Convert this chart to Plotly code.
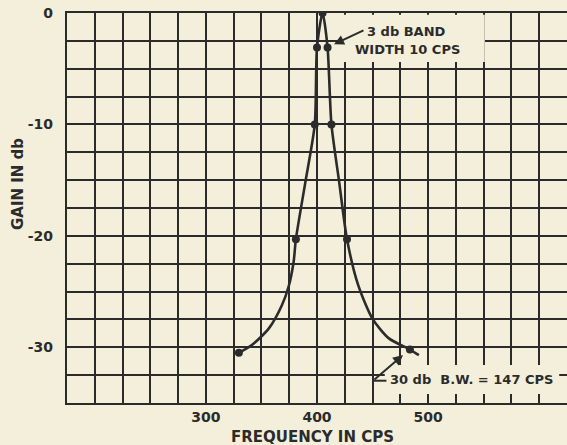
import plotly.graph_objects as go

# Traced response curve (frequency in cps, gain in db)
curve_freq = [329.7, 341.4, 356.7, 368.3, 374.6, 379.0, 381.0, 389.5, 398.0, 400.0,
              405.0, 409.5, 413.0, 420.0, 427.0, 437.0, 449.7, 464.7, 483.6, 491.7]
curve_gain = [-30.5, -29.8, -28.3, -26.25, -24.5, -22.3, -20.3, -15.2, -10.0, -3.1,
              0.0, -3.1, -10.0, -15.2, -20.3, -24.4, -27.4, -29.2, -30.2, -30.7]

# Measured points marked on the curve
pt_freq = [329.7, 381.0, 398.0, 400.0, 405.0, 409.5, 413.0, 427.0, 483.6]
pt_gain = [-30.5, -20.3, -10.0, -3.1, 0.0, -3.1, -10.0, -20.3, -30.2]

# Axis ticks
x_grid = list(range(175, 626, 25))
x_labels = {300: "300", 400: "400", 500: "500"}
y_grid = [-35 + 2.5 * i for i in range(15)]
y_labels = {0: "0", -10: "-10", -20: "-20", -30: "-30"}

ink = "#2b2b2b"
paper = "#f4efdb"
font_fam = "DejaVu Sans"

fig = go.Figure()
fig.add_trace(go.Scatter(
    x=curve_freq, y=curve_gain, mode="lines",
    line=dict(color=ink, width=2.6, shape="spline", smoothing=0.7),
    hoverinfo="skip", showlegend=False))
fig.add_trace(go.Scatter(
    x=pt_freq, y=pt_gain, mode="markers",
    marker=dict(color=ink, size=8), showlegend=False))

fig.update_layout(
    width=567, height=445,
    margin=dict(l=67, r=0, t=13, b=42),
    paper_bgcolor=paper, plot_bgcolor=paper,
    font=dict(family=font_fam, size=14, color=ink, weight="bold"),
)
fig.update_xaxes(
    range=[175, 625], tickmode="array", tickvals=x_grid,
    ticktext=[x_labels.get(v, "") for v in x_grid],
    showgrid=True, gridcolor=ink, gridwidth=1.6,
    showline=True, linecolor=ink, linewidth=2.2, mirror=True,
    ticks="", ticklabelstandoff=0, zeroline=False, automargin=False,
    tickfont=dict(family=font_fam, size=14, color=ink, weight="bold"))
fig.update_yaxes(
    range=[-35, 0], tickmode="array", tickvals=y_grid,
    ticktext=[y_labels.get(v, "") for v in y_grid],
    showgrid=True, gridcolor=ink, gridwidth=1.6,
    showline=True, linecolor=ink, linewidth=2.2, mirror=False,
    ticks="", ticklabelstandoff=9, zeroline=False, automargin=False,
    tickfont=dict(family=font_fam, size=14, color=ink, weight="bold"))

ann_font = dict(family=font_fam, size=13, color=ink, weight="bold")

# Clear patches of the grid behind the notes
fig.add_shape(type="rect", x0=421, x1=551, y0=-0.15, y1=-4.4, layer="between",
              line=dict(width=0), fillcolor=paper)
fig.add_shape(type="rect", x0=461, x1=618, y0=-31.6, y1=-34.2, layer="between",
              line=dict(width=0), fillcolor=paper)

# Axis titles
fig.add_annotation(text="FREQUENCY IN CPS", x=395.5, xref="x", y=-0.088, yref="paper",
                   xanchor="center", yanchor="middle", showarrow=False,
                   font=dict(family=font_fam, size=15, color=ink, weight="bold"))
fig.add_annotation(text="GAIN IN db", x=-0.098, xref="paper", y=0.5615, yref="paper",
                   xanchor="center", yanchor="middle", textangle=-90, showarrow=False,
                   font=dict(family=font_fam, size=15, color=ink, weight="bold"))

# 3 db band width note
fig.add_annotation(text="3 db BAND", x=443.2, y=-1.7, xanchor="left", showarrow=False,
                   font=ann_font)
fig.add_annotation(text="WIDTH 10 CPS", x=432.4, y=-3.3, xanchor="left", showarrow=False,
                   font=ann_font)
fig.add_annotation(text="", x=415.3, y=-2.8, ax=443.2, ay=-1.5, axref="x", ayref="y",
                   showarrow=True, arrowhead=2, arrowsize=1, arrowwidth=2, arrowcolor=ink)

# 30 db band width note
fig.add_annotation(text="30 db\u00a0 B.W. = 147 CPS", x=463.9, y=-32.9, xanchor="left",
                   showarrow=False, font=ann_font)
fig.add_annotation(text="", x=477.4, y=-30.7, ax=450.4, ay=-33.0, axref="x", ayref="y",
                   showarrow=True, arrowhead=2, arrowsize=1, arrowwidth=2, arrowcolor=ink)
fig.add_shape(type="line", x0=450.4, y0=-33.0, x1=462.5, y1=-33.0,
              line=dict(color=ink, width=2))

fig.write_html(
    "out.html",
    config={"displayModeBar": False},
    post_script="document.body.style.margin='0px';"
                "document.body.style.background='#f4efdb';"
                "document.body.style.overflow='hidden';",
)
